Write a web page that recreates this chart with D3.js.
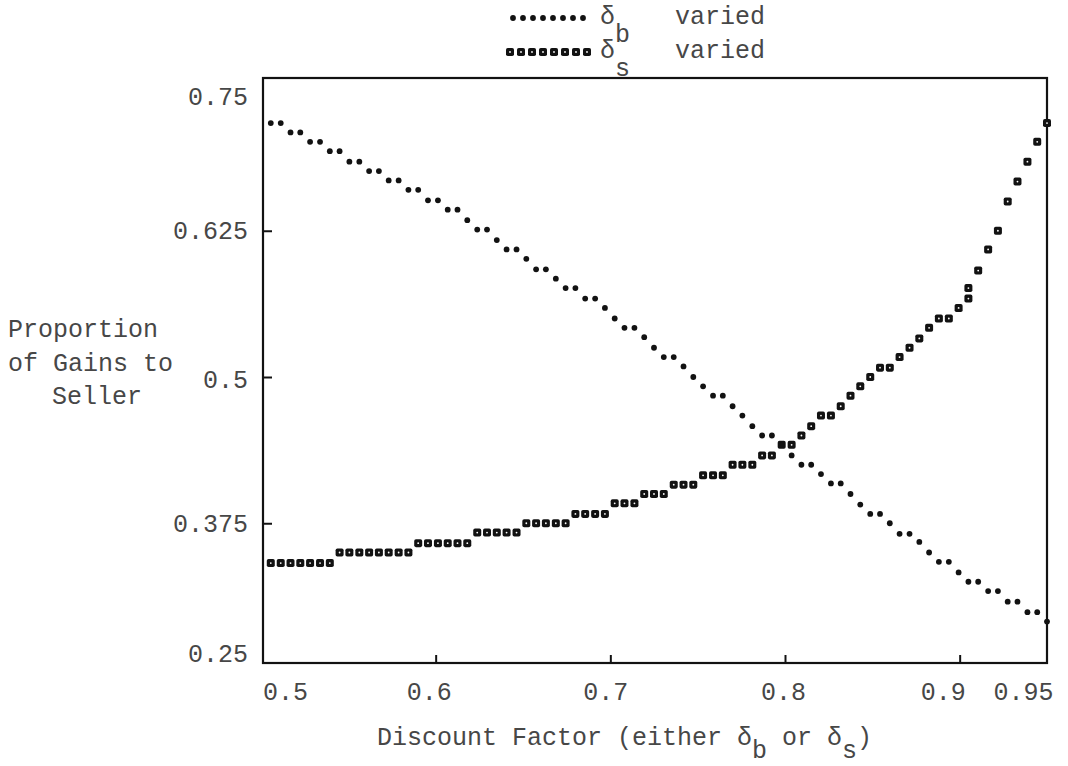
<!DOCTYPE html>
<html lang="en">
<head>
    <meta charset="UTF-8">
    <title>Proportion of Gains to Seller</title>
    <script src="https://cdnjs.cloudflare.com/ajax/libs/d3/7.8.5/d3.min.js"></script>
    <style>
        body {
            margin: 0;
            background-color: white;
        }

        svg text {
            font-family: "Liberation Mono", "DejaVu Sans Mono", monospace;
            font-size: 25px;
            fill: #474747;
            white-space: pre;
        }
    </style>
</head>
<body>
<svg id="chart"></svg>
<script>
    // discount factor grid (one printer column per value)
    const discount = [
        0.5056, 0.5113, 0.5169, 0.5225, 0.5281, 0.5338, 0.5394, 0.5450, 0.5506, 0.5563,
        0.5619, 0.5675, 0.5731, 0.5788, 0.5844, 0.5900, 0.5956, 0.6013, 0.6069, 0.6125,
        0.6181, 0.6238, 0.6294, 0.6350, 0.6406, 0.6463, 0.6519, 0.6575, 0.6631, 0.6688,
        0.6744, 0.6800, 0.6856, 0.6913, 0.6969, 0.7025, 0.7081, 0.7138, 0.7194, 0.7250,
        0.7306, 0.7363, 0.7419, 0.7475, 0.7531, 0.7588, 0.7644, 0.7700, 0.7756, 0.7813,
        0.7869, 0.7925, 0.7981, 0.8038, 0.8094, 0.8150, 0.8206, 0.8263, 0.8319, 0.8375,
        0.8431, 0.8488, 0.8544, 0.8600, 0.8656, 0.8713, 0.8769, 0.8825, 0.8881, 0.8938,
        0.8994, 0.9050, 0.9106, 0.9163, 0.9219, 0.9275, 0.9331, 0.9388, 0.9444, 0.9500
    ];

    // delta_b varied
    const shareB = [
        0.717, 0.717, 0.709, 0.709, 0.701, 0.701, 0.693, 0.693, 0.684, 0.684,
        0.676, 0.676, 0.668, 0.668, 0.660, 0.660, 0.651, 0.651, 0.643, 0.643,
        0.634, 0.626, 0.626, 0.617, 0.609, 0.609, 0.601, 0.592, 0.592, 0.584,
        0.576, 0.576, 0.567, 0.567, 0.559, 0.550, 0.542, 0.542, 0.534, 0.525,
        0.517, 0.517, 0.509, 0.500, 0.492, 0.484, 0.484, 0.475, 0.467, 0.458,
        0.450, 0.450, 0.442, 0.433, 0.425, 0.425, 0.417, 0.409, 0.409, 0.400,
        0.391, 0.383, 0.383, 0.375, 0.366, 0.366, 0.359, 0.350, 0.342, 0.342,
        0.333, 0.325, 0.325, 0.317, 0.317, 0.308, 0.308, 0.299, 0.299, 0.291
    ];

    // delta_s varied (column 0.905 is printed twice)
    const sDiscount = discount.slice(0, 72).concat([0.9050], discount.slice(72));
    const shareS = [
        0.341, 0.341, 0.341, 0.341, 0.341, 0.341, 0.341,
        0.350, 0.350, 0.350, 0.350, 0.350, 0.350, 0.350, 0.350,
        0.358, 0.358, 0.358, 0.358, 0.358, 0.358,
        0.367, 0.367, 0.367, 0.367, 0.367,
        0.375, 0.375, 0.375, 0.375, 0.375,
        0.383, 0.383, 0.383, 0.383,
        0.392, 0.392, 0.392,
        0.400, 0.400, 0.400,
        0.408, 0.408, 0.408,
        0.416, 0.416, 0.416,
        0.425, 0.425, 0.425,
        0.433, 0.433,
        0.442, 0.442,
        0.450, 0.458, 0.467, 0.467, 0.475, 0.484, 0.492, 0.500, 0.508, 0.508,
        0.517, 0.525, 0.533, 0.542, 0.550, 0.550, 0.559, 0.567, 0.576,
        0.591, 0.609, 0.625, 0.650, 0.667, 0.684, 0.701, 0.717
    ];

    const xTicks = [0.5, 0.6, 0.7, 0.8, 0.9, 0.95];
    const yTicks = [0.25, 0.375, 0.5, 0.625, 0.75];

    const width = 1068;
    const height = 766;
    const frame = {left: 263, right: 1047, top: 78, bottom: 663};
    const ink = '#121212';

    const svg = d3.select('#chart').attr('width', width).attr('height', height);

    const x = d3.scaleLinear().domain([0.5, 0.95]).range([261, 1047]);
    const y = d3.scaleLinear().domain([0.25, 0.75]).range([669.5, 84.5]);

    // typed labels sit a little off their tick marks
    const xLabelShift = {0.5: 24, 0.6: -7, 0.7: -5, 0.8: -2, 0.9: -17, 0.95: -24};
    const yLabelShift = {0.75: 12, 0.25: -16, 0.5: 2};

    // frame
    svg.append('rect')
        .attr('x', frame.left).attr('y', frame.top)
        .attr('width', frame.right - frame.left).attr('height', frame.bottom - frame.top)
        .attr('fill', 'none').attr('stroke', ink).attr('stroke-width', 2.2);

    // inward tick marks
    svg.append('g')
        .attr('transform', `translate(${frame.left},0)`)
        .call(d3.axisRight(y).tickValues([0.375, 0.5, 0.625]).tickSize(9).tickFormat(''))
        .call(g => g.select('.domain').remove())
        .selectAll('line').attr('stroke', ink).attr('stroke-width', 2);

    svg.append('g')
        .attr('transform', `translate(0,${frame.bottom})`)
        .call(d3.axisTop(x).tickValues([0.6, 0.7, 0.8, 0.9]).tickSize(8).tickFormat(''))
        .call(g => g.select('.domain').remove())
        .selectAll('line').attr('stroke', ink).attr('stroke-width', 2);

    // tick labels
    const yAxis = svg.append('g')
        .attr('transform', `translate(${frame.left},0)`)
        .call(d3.axisLeft(y).tickValues(yTicks).tickSize(0).tickPadding(15).tickFormat(d => String(d)))
        .call(g => g.select('.domain').remove())
        .attr('font-size', null).attr('font-family', null);
    yAxis.selectAll('.tick text').attr('dy', d => (8 + (yLabelShift[d] || 0)) + 'px');

    const xAxis = svg.append('g')
        .attr('transform', `translate(0,${frame.bottom})`)
        .call(d3.axisBottom(x).tickValues(xTicks).tickSize(0).tickPadding(19).tickFormat(d => String(d)))
        .call(g => g.select('.domain').remove())
        .attr('font-size', null).attr('font-family', null);
    xAxis.selectAll('.tick text').attr('dx', d => (xLabelShift[d] || 0) + 'px');

    // text with typewriter subscripts
    function typed(xPos, yPos, parts, drop) {
        const t = svg.append('text').attr('x', xPos).attr('y', yPos);
        let level = 0;
        parts.forEach(p => {
            const target = p.sub ? (drop || 18) : 0;
            t.append('tspan').attr('dy', target - level).text(p.t);
            level = target;
        });
        return t;
    }

    typed(8, 337, [{t: 'Proportion'}]);
    typed(8, 371, [{t: 'of Gains to'}]);
    typed(52, 404, [{t: 'Seller'}]);

    typed(377, 745, [
        {t: 'Discount Factor (either δ'}, {t: 'b', sub: true},
        {t: ' or δ'}, {t: 's', sub: true}, {t: ')'}
    ], 13);

    // markers
    function dot(g, cx, cy) {
        g.append('circle').attr('cx', cx).attr('cy', cy).attr('r', 2.9).attr('fill', ink);
    }

    function box(g, cx, cy) {
        g.append('rect').attr('x', cx - 4).attr('y', cy - 4).attr('width', 8).attr('height', 8)
            .attr('rx', 1.8).attr('fill', ink);
        g.append('circle').attr('cx', cx).attr('cy', cy).attr('r', 0.9).attr('fill', 'white');
    }

    const sLayer = svg.append('g').attr('class', 'series-s');
    shareS.forEach((v, i) => box(sLayer, x(sDiscount[i]), y(v)));

    const bLayer = svg.append('g').attr('class', 'series-b');
    shareB.forEach((v, i) => dot(bLayer, x(discount[i]), y(v)));

    // legend
    const legend = svg.append('g').attr('class', 'legend');
    d3.range(8).forEach(k => dot(legend, 513 + k * 10, 18));
    d3.range(8).forEach(k => box(legend, 510 + k * 11, 52));
    typed(600, 24, [{t: 'δ'}, {t: 'b', sub: true}, {t: '   varied'}]);
    typed(600, 58, [{t: 'δ'}, {t: 's', sub: true}, {t: '   varied'}]);
</script>
</body>
</html>
